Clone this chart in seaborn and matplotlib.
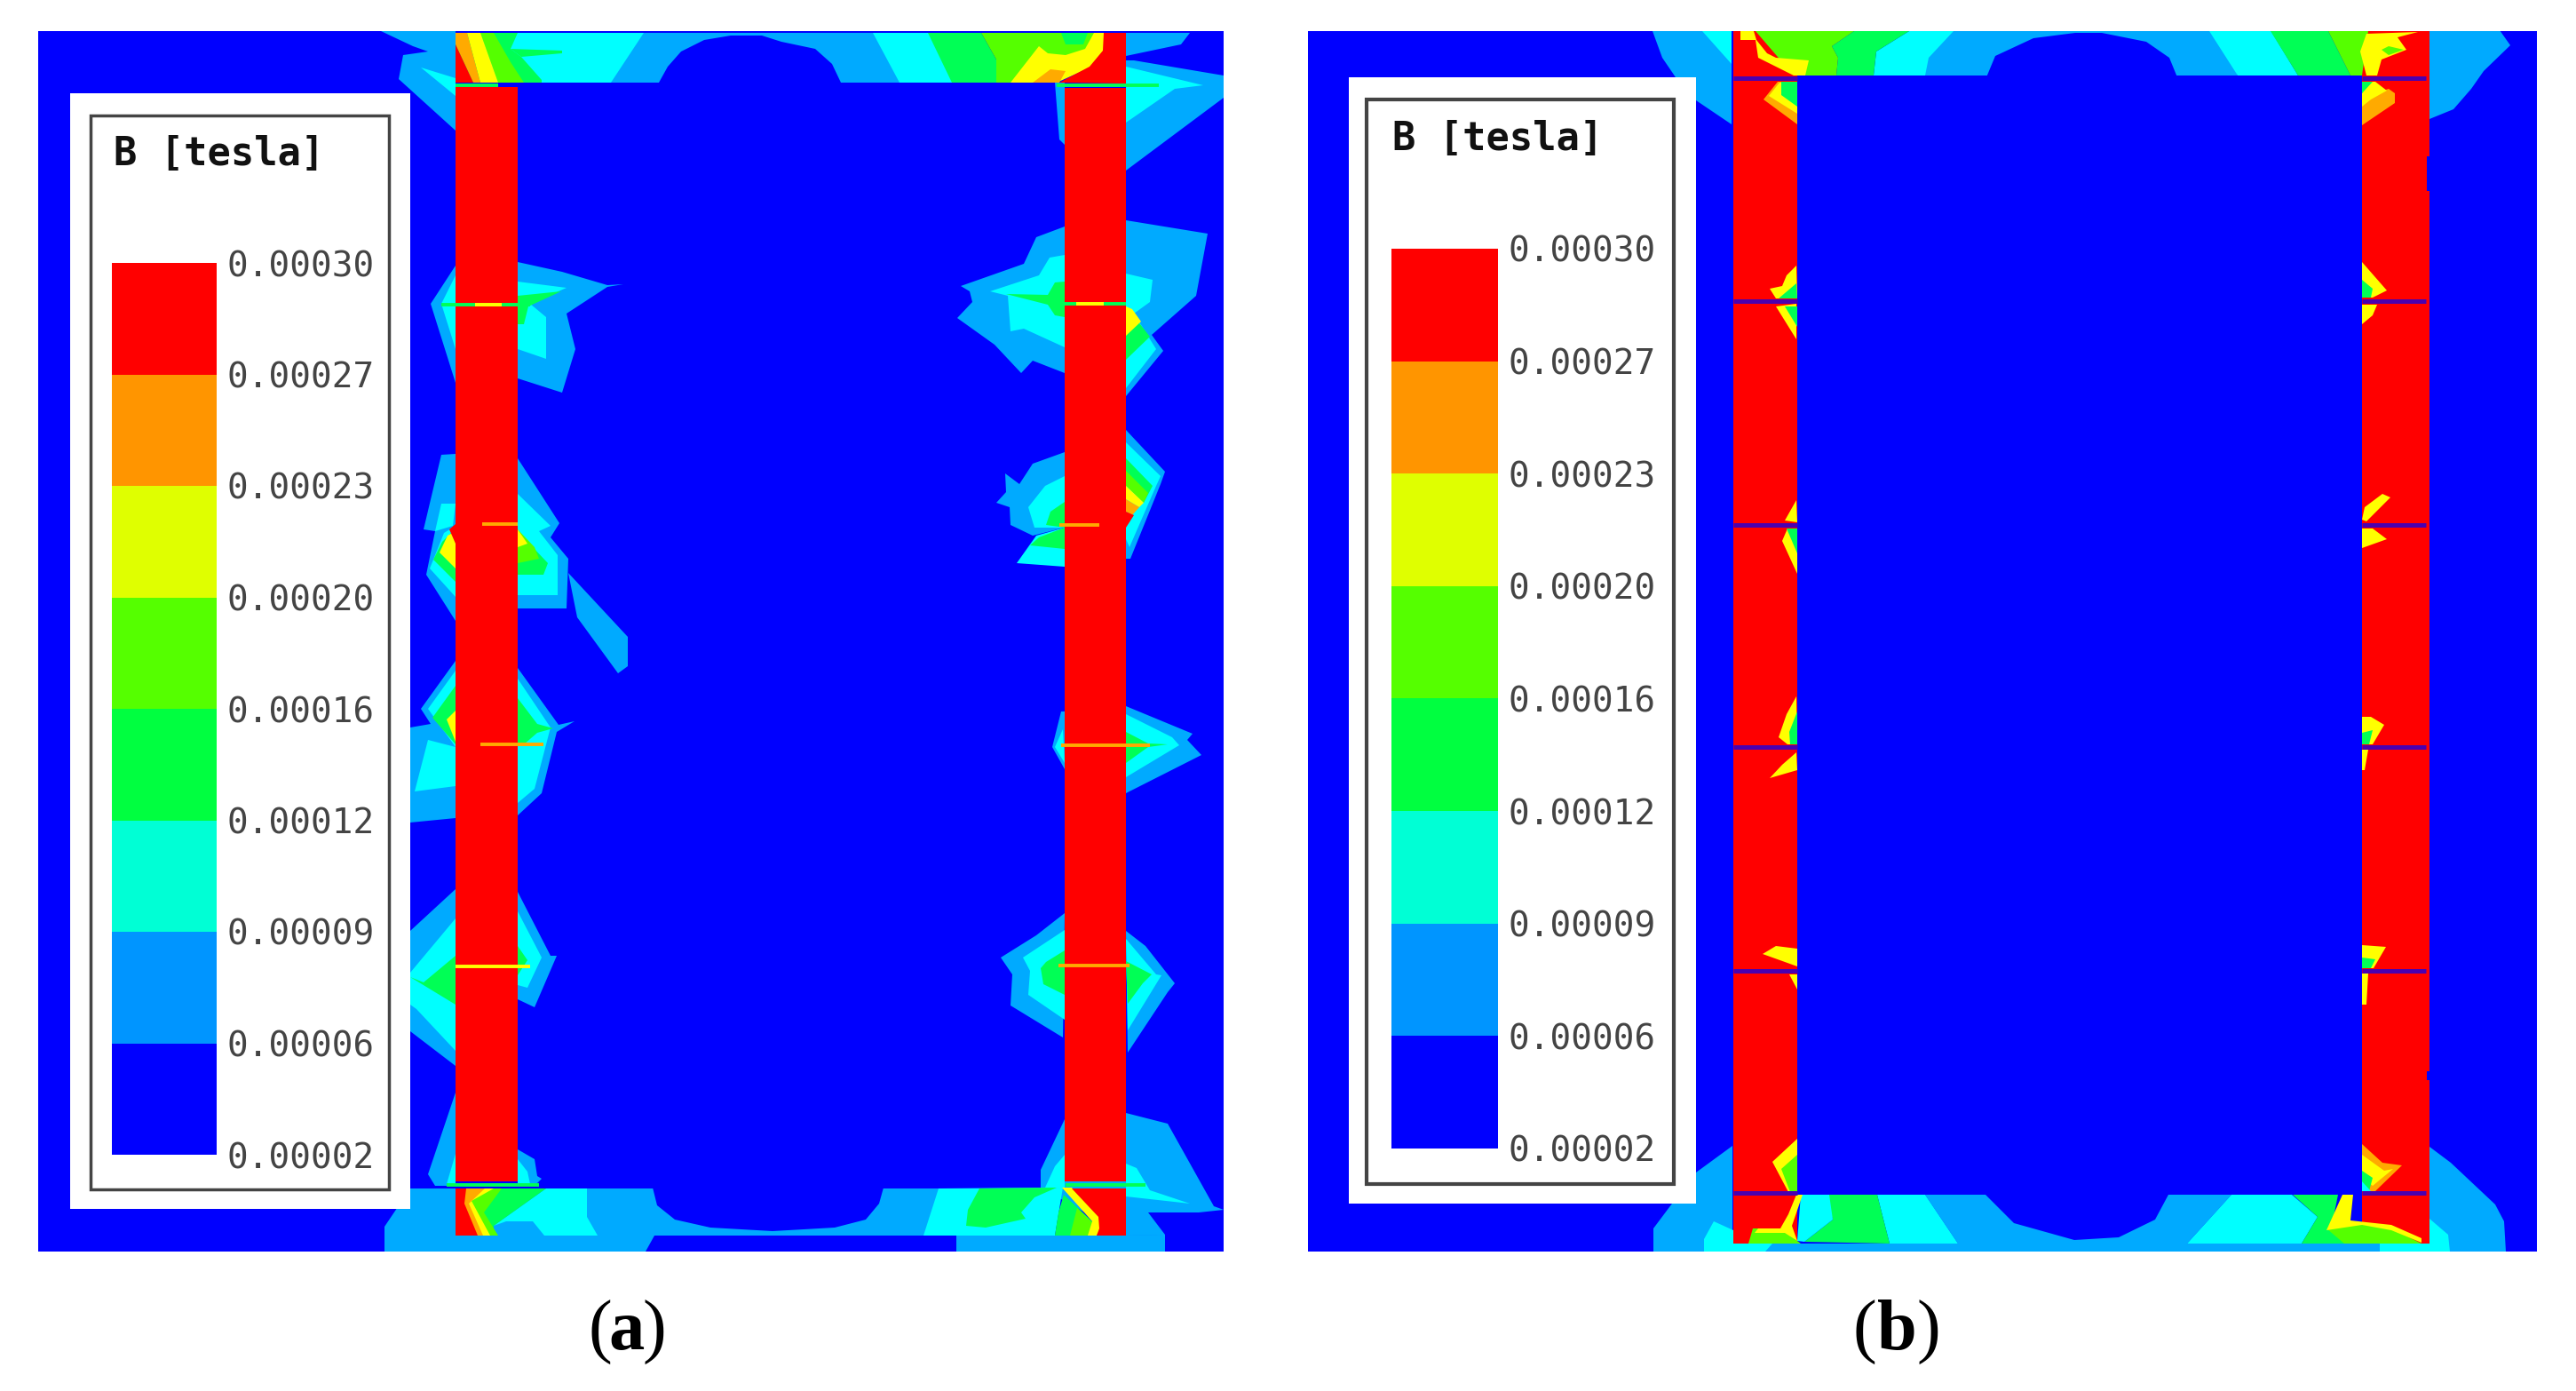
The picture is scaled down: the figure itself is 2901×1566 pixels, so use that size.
import numpy as np
import matplotlib
matplotlib.use('Agg')
import matplotlib.pyplot as plt
from matplotlib.colors import ListedColormap
from matplotlib.patches import Rectangle
import seaborn as sns

# legend values, top to bottom
legend_ticks = ['0.00030', '0.00027', '0.00023', '0.00020', '0.00016',
                '0.00012', '0.00009', '0.00006', '0.00002']
legend_levels = [7, 6, 5, 4, 3, 2, 1, 0]
legend_colors = ['#0000FF', '#0095FF', '#00FFD5', '#00FF40', '#55FF00', '#DFFF00', '#FF9500', '#FF0000']
field_colors = ['#0000FF', '#00AAFF', '#00FFFF', '#00FF55', '#55FF00', '#FFFF00', '#FFAA00', '#FF0000']

# contour regions: (level, outline) in drawing order
# --- panel a ---
a_outer_top = [
    (1, [(429,35),(513,35),(513,147),(449,89),(454,62),(482,58),(465,52)]),
    (2, [(474,76),(513,88),(513,108)]),
    (1, [(1268,37),(1340,37),(1330,50),(1268,63)]),
    (1, [(1268,68),(1277,68),(1378,85),(1378,110),(1268,192)]),
    (2, [(1268,75),(1355,96),(1323,100),(1268,138)]),
    (1, [(1188,93),(1199,93),(1199,163),(1193,157)]),
]
a_left_bumps = [
    (1, [(513,299),(485,342),(513,431)]),
    (2, [(513,310),(497,342),(513,393)]),
    (1, [(583,295),(633,306),(684,321),(702,320),(684,323),(638,353),(648,393),(633,442),(583,426)]),
    (2, [(583,317),(638,324),(597,342),(615,357),(615,404),(583,393)]),
    (3, [(583,333),(632,328),(595,345),(590,365),(583,365)]),
    (1, [(513,511),(497,512),(477,596),(490,598),(480,647),(513,699)]),
    (2, [(513,567),(497,567),(490,598),(510,592)]),
    (2, [(513,592),(500,600),(484,640),(513,672)]),
    (3, [(513,595),(498,610),(488,630),(513,655)]),
    (5, [(513,598),(504,603),(495,622),(513,640)]),
    (7, [(513,590),(506,596),(513,612)]),
    (1, [(583,516),(630,589),(620,605),(640,629),(638,685),(583,685)]),
    (2, [(583,556),(620,592),(607,598),(628,625),(628,670),(583,670)]),
    (3, [(583,598),(617,634),(612,647),(583,647)]),
    (4, [(583,596),(602,616),(607,629),(583,634)]),
    (5, [(583,596),(594,612),(583,616)]),
    (1, [(640,645),(707,717),(707,750),(696,758),(650,695)]),
    (1, [(513,744),(474,798),(485,815),(462,819),(462,926),(513,921)]),
    (2, [(467,891),(482,833),(513,841),(513,885)]),
    (2, [(513,755),(482,798),(513,841)]),
    (3, [(513,772),(487,808),(513,838)]),
    (5, [(503,810),(513,800),(513,835)]),
    (1, [(583,752),(629,816),(647,812),(627,824),(610,893),(583,918)]),
    (2, [(583,764),(620,819),(602,888),(583,904)]),
    (3, [(583,786),(605,815),(623,820),(605,825),(590,838),(583,838)]),
    (1, [(462,1048),(513,1001),(513,1200),(462,1161)]),
    (2, [(462,1095),(513,1034),(513,1183),(469,1136),(462,1131)]),
    (3, [(462,1100),(477,1106),(513,1076),(513,1131)]),
    (1, [(583,1004),(620,1076),(627,1076),(602,1134),(583,1125)]),
    (2, [(583,1026),(610,1078),(594,1112),(583,1109)]),
    (3, [(583,1065),(594,1081),(583,1098)]),
    (1, [(513,1230),(482,1322),(490,1335),(513,1335)]),
    (2, [(513,1299),(503,1333),(513,1333)]),
    (1, [(583,1294),(602,1305),(605,1324),(610,1327),(602,1335),(583,1335)]),
    (2, [(583,1305),(594,1319),(597,1333),(583,1333)]),
]
a_right_bumps = [
    (1, [(1268,248),(1360,263),(1347,333),(1297,377),(1310,395),(1268,446)]),
    (2, [(1268,308),(1298,315),(1295,340),(1277,353),(1302,393),(1268,437)]),
    (3, [(1280,360),(1295,379),(1268,405),(1268,365)]),
    (5, [(1268,345),(1275,348),(1285,362),(1268,378)]),
    (1, [(1199,255),(1167,267),(1153,297),(1082,322),(1092,328),(1095,340),(1078,358),(1120,388),(1150,420),(1163,406),(1199,420)]),
    (2, [(1199,287),(1182,290),(1170,310),(1115,328),(1135,333),(1138,373),(1153,370),(1199,391)]),
    (3, [(1199,317),(1188,318),(1180,332),(1133,331),(1180,343),(1188,355),(1199,357)]),
    (1, [(1268,484),(1312,531),(1307,545),(1273,629),(1268,629)]),
    (2, [(1268,498),(1307,536),(1302,547),(1272,616),(1268,607)]),
    (3, [(1268,516),(1298,547),(1288,566),(1268,547)]),
    (4, [(1268,530),(1293,555),(1288,566),(1268,547)]),
    (5, [(1268,547),(1288,566),(1283,571),(1268,562)]),
    (6, [(1268,562),(1283,571),(1275,580),(1268,576)]),
    (7, [(1268,576),(1277,580),(1268,594)]),
    (1, [(1199,509),(1163,522),(1148,545),(1132,533),(1133,554),(1122,566),(1137,571),(1138,591),(1163,603),(1199,594)]),
    (2, [(1199,536),(1177,547),(1158,571),(1165,594),(1199,594)]),
    (3, [(1199,565),(1183,576),(1178,591),(1199,594)]),
    (2, [(1199,594),(1167,603),(1145,634),(1199,638)]),
    (3, [(1199,594),(1170,605),(1160,614),(1199,618)]),
    (1, [(1268,795),(1343,826),(1337,833),(1353,850),(1268,893)]),
    (2, [(1268,804),(1320,830),(1328,839),(1268,875)]),
    (3, [(1268,824),(1293,837),(1315,838),(1293,841),(1268,859)]),
    (1, [(1199,801),(1195,801),(1185,841),(1199,866)]),
    (2, [(1197,821),(1188,841),(1199,859)]),
    (1, [(1199,1028),(1167,1053),(1127,1078),(1140,1097),(1138,1132),(1197,1168)]),
    (2, [(1199,1047),(1152,1078),(1160,1093),(1158,1120),(1199,1148)]),
    (3, [(1199,1070),(1178,1083),(1172,1090),(1175,1108),(1199,1120)]),
    (1, [(1268,1048),(1290,1065),(1323,1107),(1315,1117),(1270,1185)]),
    (2, [(1268,1057),(1302,1097),(1308,1098),(1270,1160)]),
    (3, [(1268,1082),(1297,1097),(1287,1107),(1270,1130)]),
    (1, [(1268,1253),(1315,1265),(1367,1358),(1378,1362),(1350,1365),(1293,1365),(1312,1390),(1268,1391),(1172,1337),(1172,1317),(1199,1260)]),
    (2, [(1268,1310),(1280,1315),(1295,1340),(1340,1355),(1268,1347)]),
    (2, [(1199,1300),(1188,1313),(1177,1337),(1199,1337)]),
]
a_top_band = [
    (2, [(513,37),(1100,37),(1100,93),(513,93)]),
    (1, [(725,37),(983,37),(1013,93),(688,93)]),
    (0, [(742,93),(752,75),(767,58),(793,45),(823,40),(858,40),(880,47),(918,55),(937,72),(947,93)]),
    (3, [(513,37),(583,37),(575,55),(587,64),(610,90),(610,93),(513,93)]),
    (3, [(575,55),(633,57),(633,60),(587,64)]),
    (3, [(1045,37),(1105,37),(1122,67),(1122,93),(1072,93)]),
    (4, [(541,37),(556,37),(575,70),(590,93),(561,93)]),
    (5, [(526,37),(541,37),(561,93),(541,93)]),
    (6, [(513,37),(526,37),(541,93),(533,93),(513,50)]),
    (7, [(513,50),(533,93),(513,93)]),
    (4, [(1105,37),(1235,37),(1235,70),(1138,93),(1122,93),(1122,67)]),
    (3, [(1195,37),(1225,37),(1220,50),(1200,50)]),
    (5, [(1170,52),(1180,60),(1200,62),(1222,55),(1232,37),(1243,37),(1243,60),(1230,75),(1190,93),(1138,93)]),
    (6, [(1163,93),(1183,78),(1200,80),(1193,93)]),
    (7, [(1193,93),(1227,75),(1242,57),(1243,37),(1268,37),(1268,94)]),
]
a_bottom_band = [
    (1, [(433,1381),(462,1338),(1057,1338),(1077,1391),(737,1391),(727,1409),(433,1409)]),
    (1, [(1040,1391),(1312,1390),(1312,1409),(1077,1409),(1077,1391)]),
    (0, [(735,1337),(740,1357),(760,1373),(800,1382),(870,1386),(940,1382),(975,1373),(990,1355),(995,1337)]),
    (2, [(615,1338),(661,1338),(661,1370),(673,1391),(613,1391),(600,1375),(570,1375),(556,1380)]),
    (3, [(513,1338),(615,1338),(556,1380),(556,1391),(513,1391)]),
    (4, [(513,1338),(565,1338),(545,1365),(561,1391),(513,1391)]),
    (5, [(513,1338),(556,1338),(531,1352),(552,1391),(513,1391)]),
    (6, [(513,1338),(546,1338),(528,1355),(544,1391),(513,1391)]),
    (7, [(513,1338),(525,1338),(523,1355),(538,1391),(513,1391)]),
    (2, [(1057,1338),(1197,1337),(1188,1391),(1040,1391)]),
    (3, [(1103,1338),(1190,1337),(1165,1348),(1150,1365),(1155,1372),(1110,1382),(1088,1380),(1090,1362)]),
    (3, [(1198,1345),(1230,1375),(1228,1391),(1188,1391),(1192,1365)]),
    (4, [(1213,1360),(1232,1378),(1228,1391),(1205,1391)]),
    (5, [(1196,1337),(1207,1337),(1238,1370),(1240,1383),(1235,1391),(1225,1391),(1230,1375)]),
    (7, [(1207,1338),(1237,1370),(1238,1383),(1235,1391),(1268,1391),(1268,1338)]),
]
a_bars = [
    (7, [(513,98),(583,98),(583,1330),(513,1330)]),
    (7, [(1199,99),(1268,99),(1268,1330),(1199,1330)]),
]
# joints in panel a: (x start, x end, y, level)
a_joints = [
    (513, 561, 96, 3), (1190, 1305, 96, 3),
    (497, 597, 343, 3), (535, 565, 343, 5), (1188, 1268, 342, 3), (1212, 1243, 342, 5),
    (543, 583, 590, 6), (1193, 1238, 591, 6),
    (541, 612, 838, 6), (1195, 1295, 839, 6),
    (513, 597, 1088, 5), (1192, 1272, 1087, 6),
    (503, 607, 1334, 3), (1200, 1290, 1334, 3),
]

# --- panel b ---
b_outer = [
    (1, [(1861,35),(1950,35),(1950,140),(1910,113),(1887,87),(1872,65)]),
    (2, [(1917,35),(1950,35),(1950,72)]),
    (1, [(2736,34),(2815,34),(2827,51),(2797,80),(2783,100),(2763,123),(2736,134)]),
    (1, [(1862,1409),(1862,1383),(1883,1355),(1910,1355),(1910,1320),(1951,1290),(1951,1400),(2820,1400),(2820,1409)]),
    (1, [(2736,1291),(2760,1309),(2810,1356),(2820,1375),(2822,1409),(2736,1409)]),
    (2, [(1919,1409),(1919,1395),(1930,1375),(1952,1385),(1952,1400),(1996,1400),(1988,1409)]),
    (2, [(2736,1372),(2757,1390),(2759,1409),(2680,1409),(2680,1400),(2736,1400)]),
]
b_bars = [
    (7, [(1952,35),(2024,35),(2024,1400),(1952,1400)]),
    (7, [(2660,35),(2736,35),(2736,1400),(2660,1400)]),
]
b_top_band = [
    (1, [(2168,35),(2500,35),(2520,85),(2168,85)]),
    (0, [(2237,87),(2247,63),(2290,43),(2337,37),(2367,37),(2417,47),(2443,65),(2452,87)]),
    (2, [(2150,35),(2200,35),(2172,65),(2168,85),(2110,85),(2113,58)]),
    (3, [(2088,35),(2150,35),(2113,58),(2110,85),(2068,85),(2070,65),(2063,52)]),
    (4, [(1977,35),(2088,35),(2063,52),(2070,65),(2068,85),(2037,85),(2020,85)]),
    (5, [(1960,35),(1975,35),(1978,45),(1990,60),(2000,65),(2037,68),(2033,85),(2020,85),(1980,65),(1977,45),(1960,45)]),
    (2, [(2488,35),(2557,34),(2588,85),(2520,85)]),
    (3, [(2557,35),(2622,35),(2647,85),(2588,85)]),
    (4, [(2622,35),(2667,35),(2660,85),(2647,85)]),
    (5, [(2665,38),(2723,36),(2700,42),(2710,56),(2682,67),(2677,85),(2665,85),(2658,58)]),
    (4, [(2682,56),(2690,52),(2707,56),(2690,62)]),
]
b_left_bumps = [
    (6, [(2002,92),(1986,112),(2024,140),(2024,92)]),
    (5, [(2004,93),(1992,108),(2024,128),(2024,92)]),
    (3, [(2006,92),(2024,92),(2024,120),(2006,107)]),
    (5, [(2023,299),(2012,310),(2007,322),(1993,325),(2000,336),(2024,336)]),
    (3, [(2023,319),(2003,336),(2024,336)]),
    (5, [(2000,345),(2023,342),(2023,382)]),
    (3, [(2010,345),(2024,345),(2024,368)]),
    (5, [(2023,563),(2010,586),(2024,588)]),
    (5, [(2007,609),(2013,595),(2024,595),(2024,646)]),
    (3, [(2012,595),(2024,595),(2024,623)]),
    (5, [(2023,784),(2012,804),(2003,830),(2013,838),(2024,838)]),
    (3, [(2015,824),(2024,801),(2024,838),(2016,838)]),
    (5, [(2023,847),(2007,861),(1993,876),(2024,867)]),
    (5, [(2000,1065),(1985,1074),(2024,1088),(2024,1068)]),
    (5, [(2015,1097),(2024,1114),(2024,1097)]),
    (5, [(2024,1282),(1996,1308),(2014,1342),(2024,1342)]),
    (4, [(2024,1300),(2006,1316),(2016,1342),(2024,1342)]),
]
b_right_bumps = [
    (6, [(2660,141),(2660,110),(2690,100),(2697,105),(2697,116)]),
    (5, [(2660,120),(2660,105),(2668,92),(2675,92),(2688,102),(2670,112)]),
    (3, [(2660,92),(2672,92),(2660,105)]),
    (5, [(2660,295),(2688,327),(2672,335),(2660,335)]),
    (3, [(2660,315),(2672,325),(2670,335),(2660,335)]),
    (5, [(2660,343),(2677,343),(2672,355),(2660,365)]),
    (5, [(2660,585),(2663,571),(2683,556),(2692,560),(2665,587)]),
    (5, [(2660,595),(2672,595),(2688,607),(2660,617)]),
    (5, [(2660,807),(2670,807),(2685,816),(2672,838),(2660,838)]),
    (3, [(2660,825),(2672,822),(2668,838),(2660,838)]),
    (5, [(2660,844),(2667,844),(2663,867),(2660,867)]),
    (5, [(2660,1064),(2687,1066),(2673,1090),(2660,1090)]),
    (3, [(2660,1078),(2675,1080),(2670,1090),(2660,1090)]),
    (5, [(2660,1096),(2667,1096),(2665,1131),(2660,1131)]),
    (6, [(2660,1288),(2683,1309),(2705,1312),(2675,1341),(2660,1341)]),
    (5, [(2660,1300),(2685,1318),(2695,1316),(2672,1335),(2660,1325)]),
    (3, [(2660,1318),(2672,1326),(2668,1341),(2660,1341)]),
    (2, [(2660,1330),(2670,1341),(2660,1341)]),
    (0, [(2733,176),(2737,176),(2737,215),(2733,215)]),
    (0, [(2733,1206),(2737,1206),(2737,1216),(2733,1216)]),
]
b_bottom_band = [
    (1, [(2168,1345),(2513,1345),(2463,1400),(2205,1400)]),
    (0, [(2236,1345),(2268,1377),(2336,1396),(2386,1393),(2427,1373),(2442,1345)]),
    (2, [(2114,1345),(2168,1345),(2205,1400),(2128,1400)]),
    (3, [(2055,1345),(2114,1345),(2128,1400),(2032,1398),(2064,1373)]),
    (2, [(2028,1345),(2060,1345),(2064,1373),(2032,1398),(2024,1397)]),
    (4, [(1974,1383),(2005,1383),(2028,1400),(1969,1400)]),
    (5, [(2023,1345),(2030,1345),(2018,1380),(2024,1397),(2010,1388),(1976,1388),(1980,1383),(2005,1383),(2014,1367)]),
    (2, [(2513,1345),(2581,1345),(2610,1370),(2592,1400),(2463,1400)]),
    (3, [(2582,1345),(2633,1345),(2625,1385),(2700,1400),(2592,1400),(2610,1370)]),
    (4, [(2620,1383),(2660,1376),(2693,1383),(2727,1400),(2640,1400)]),
    (5, [(2638,1345),(2650,1345),(2647,1374),(2665,1376),(2693,1379),(2727,1394),(2727,1399),(2693,1385),(2660,1379),(2620,1385)]),
]
# joints in panel b: one per y, across both bars
b_joint_y = [88, 339, 591, 841, 1093, 1343]
b_joint_x = [(1952, 2024), (2660, 2732)]

W, H = 2901, 1566
sns.set_style('white')
plt.rcParams['font.family'] = ['DejaVu Sans']
fig = plt.figure(figsize=(W / 100, H / 100), dpi=100, facecolor='white')


def px_axes(x0, y0, x1, y1):
    return fig.add_axes([x0 / W, 1 - y1 / H, (x1 - x0) / W, (y1 - y0) / H])


def draw_regions(ax, regions):
    for level, pts in regions:
        xs, ys = zip(*pts)
        ax.fill(xs, ys, color=field_colors[level], lw=0)


def draw_legend(ax, box, frame, strip, title_xy, frame_lw):
    ax.add_patch(Rectangle((box[0], box[1]), box[2] - box[0], box[3] - box[1], fc='white', ec='none', zorder=5))
    ax.add_patch(Rectangle((frame[0], frame[1]), frame[2] - frame[0], frame[3] - frame[1], fc='white', ec='#444444', lw=frame_lw, zorder=6))
    ax.text(title_xy[0], title_xy[1], 'B [tesla]', family='DejaVu Sans Mono', weight='bold', fontsize=31.5,
            color='#111111', va='center', ha='left', zorder=7)
    cax = px_axes(*strip)
    sns.heatmap(np.array(legend_levels).reshape(-1, 1), ax=cax, cmap=ListedColormap(legend_colors),
                vmin=0, vmax=7, cbar=False, xticklabels=False)
    cax.yaxis.tick_right()
    cax.set_yticks(np.arange(len(legend_ticks)))
    cax.set_yticklabels(legend_ticks, family='DejaVu Sans Mono', fontsize=28.4, color='#444444', rotation=0)
    cax.tick_params(axis='y', length=0, pad=8)
    cax.set_xlabel('')
    cax.set_ylabel('')


def caption(x, letter):
    serif = 'Liberation Serif'
    fig.text(x[0] / W, 1 - 1500 / H, '(', family=serif, fontsize=58, color='black', ha='left', va='center')
    fig.text(x[1] / W, 1 - 1500 / H, letter, family=serif, weight='bold', fontsize=58, color='black', ha='center', va='center')
    fig.text(x[2] / W, 1 - 1500 / H, ')', family=serif, fontsize=58, color='black', ha='right', va='center')


# panel a
ax_a = px_axes(43, 35, 1378, 1409)
ax_a.set_xlim(43, 1378)
ax_a.set_ylim(1409, 35)
ax_a.set_axis_off()
ax_a.add_patch(Rectangle((43, 35), 1335, 1374, fc=field_colors[0], ec='none', zorder=0))
for regions in [a_outer_top, a_left_bumps, a_right_bumps, a_bottom_band, a_top_band, a_bars]:
    draw_regions(ax_a, regions)
for x0, x1, y, level in a_joints:
    ax_a.hlines(y, x0, x1, color=field_colors[level], lw=2.8)
draw_legend(ax_a, (79, 105, 462, 1361), (102, 130, 438, 1339), (126, 296, 244, 1300), (128, 174), 2.5)

# panel b
ax_b = px_axes(1473, 35, 2857, 1409)
ax_b.set_xlim(1473, 2857)
ax_b.set_ylim(1409, 35)
ax_b.set_axis_off()
ax_b.add_patch(Rectangle((1473, 35), 1384, 1374, fc=field_colors[0], ec='none', zorder=0))
for regions in [b_outer, b_bars, b_top_band, b_bottom_band, b_left_bumps, b_right_bumps]:
    draw_regions(ax_b, regions)
for y in b_joint_y:
    for x0, x1 in b_joint_x:
        ax_b.hlines(y, x0, x1, color='#4A00B0', lw=3.6)
draw_legend(ax_b, (1519, 87, 1910, 1355), (1539, 112, 1885, 1333), (1567, 280, 1687, 1293), (1568, 157), 3)

caption((663, 706, 750), 'a')
caption((2087, 2136, 2185), 'b')

fig.savefig('out.png', dpi=100, facecolor='white')
plt.close(fig)
